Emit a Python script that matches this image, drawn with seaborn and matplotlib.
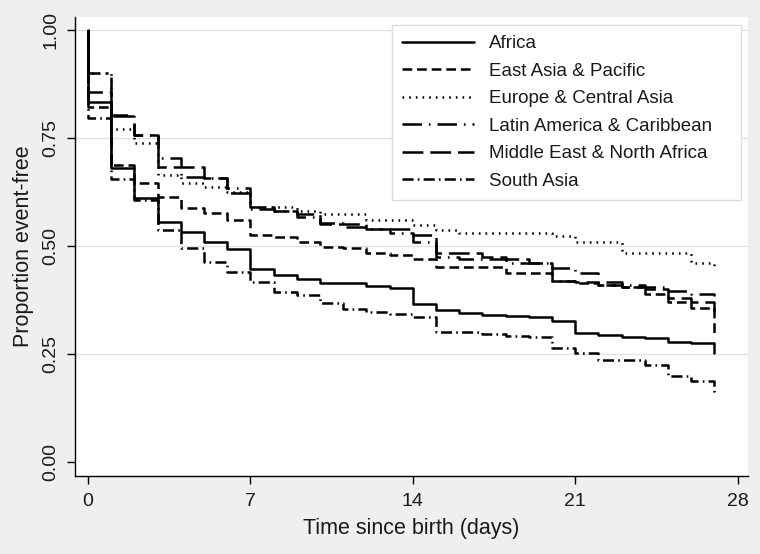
"""
Kaplan-Meier style curves: proportion event-free by region, days since birth.
"""

import pandas as pd
import matplotlib
matplotlib.use("Agg")
import matplotlib.pyplot as plt
import seaborn as sns

# ========== 1. Data ==========
days = list(range(0, 28))

africa = [0.834, 0.680, 0.611, 0.556, 0.533, 0.510, 0.493, 0.447, 0.433, 0.424,
          0.414, 0.414, 0.408, 0.403, 0.366, 0.352, 0.345, 0.340, 0.338, 0.335,
          0.326, 0.298, 0.294, 0.290, 0.287, 0.278, 0.275, 0.252]
east_asia = [0.822, 0.687, 0.645, 0.614, 0.588, 0.576, 0.560, 0.525, 0.520, 0.510,
             0.498, 0.495, 0.485, 0.480, 0.470, 0.452, 0.452, 0.452, 0.437, 0.437,
             0.420, 0.415, 0.410, 0.405, 0.390, 0.370, 0.356, 0.300]
europe = [0.900, 0.770, 0.738, 0.664, 0.645, 0.637, 0.625, 0.590, 0.590, 0.582,
          0.574, 0.574, 0.560, 0.560, 0.549, 0.537, 0.530, 0.530, 0.530, 0.530,
          0.523, 0.510, 0.510, 0.483, 0.483, 0.483, 0.460, 0.455]
latin_america = [0.900, 0.803, 0.757, 0.704, 0.660, 0.657, 0.634, 0.585, 0.580, 0.568,
                 0.553, 0.544, 0.539, 0.530, 0.510, 0.474, 0.469, 0.469, 0.460, 0.460,
                 0.450, 0.437, 0.417, 0.410, 0.405, 0.395, 0.390, 0.385]
middle_east = [0.857, 0.800, 0.757, 0.683, 0.683, 0.657, 0.623, 0.590, 0.580, 0.575,
               0.550, 0.550, 0.540, 0.540, 0.525, 0.484, 0.484, 0.474, 0.469, 0.460,
               0.420, 0.417, 0.410, 0.405, 0.400, 0.380, 0.370, 0.350]
south_asia = [0.796, 0.655, 0.606, 0.537, 0.495, 0.463, 0.440, 0.417, 0.394, 0.387,
              0.368, 0.354, 0.348, 0.343, 0.336, 0.302, 0.302, 0.297, 0.292, 0.290,
              0.264, 0.252, 0.236, 0.236, 0.225, 0.199, 0.188, 0.160]

regions = ["Africa", "East Asia & Pacific", "Europe & Central Asia",
           "Latin America & Caribbean", "Middle East & North Africa", "South Asia"]
curves = [africa, east_asia, europe, latin_america, middle_east, south_asia]

# line patterns in points (dash, gap, ...)
patterns = ["-", (0, (7, 3.5)), (0, (1.2, 3.6)), (0, (14, 5, 1.2, 5)),
            (0, (15, 5)), (0, (8, 3, 1.2, 3))]

x_ticks = [0, 7, 14, 21, 28]
y_ticks = [0.0, 0.25, 0.5, 0.75, 1.0]

# ========== 2. Style ==========
sns.set_style("white")
plt.rcParams["font.family"] = ["Liberation Sans", "DejaVu Sans"]
plt.rcParams["lines.scale_dashes"] = False
plt.rcParams["text.color"] = "#1A1A1A"
plt.rcParams["axes.labelcolor"] = "#1A1A1A"
plt.rcParams["xtick.color"] = "#1A1A1A"
plt.rcParams["ytick.color"] = "#1A1A1A"

fig = plt.figure(figsize=(7.6, 5.54), dpi=100, facecolor="#EFEFEF")
ax = fig.add_axes([75 / 760, 78 / 554, 673 / 760, 459 / 554])
ax.set_facecolor("white")

# ========== 3. Plot ==========
for name, vals, ls in zip(regions, curves, patterns):
    # survival starts at 1 at time 0, then steps down at each day
    df = pd.DataFrame({"day": [0] + days, "surv": [1.0] + vals})
    sns.lineplot(data=df, x="day", y="surv", ax=ax, estimator=None, sort=False,
                 drawstyle="steps-post", color="black", linewidth=1.8,
                 linestyle=ls, label=name)

ax.set_xlim(-0.56, 28.45)
ax.set_ylim(-0.032, 1.03)
ax.set_xticks(x_ticks)
ax.set_yticks(y_ticks)
ax.set_yticklabels([f"{v:.2f}" for v in y_ticks], rotation=90, va="center")
ax.yaxis.grid(True, color="#E2E2E2", linewidth=1)
ax.get_ygridlines()[0].set_visible(False)
ax.tick_params(axis="both", bottom=True, left=True, direction="out", length=6,
               width=1, color="black", labelsize=14, pad=6)
ax.tick_params(axis="y", pad=5)

for side in ["top", "right"]:
    ax.spines[side].set_visible(False)
for side in ["left", "bottom"]:
    ax.spines[side].set_color("black")
    ax.spines[side].set_linewidth(1)

ax.set_xlabel("Time since birth (days)", fontsize=15.5, labelpad=6)
ax.set_ylabel("Proportion event-free", fontsize=15.5, labelpad=6)

leg = ax.legend(loc="upper left",
                bbox_to_anchor=(392 / 760, 1 - 199 / 554, 349 / 760, 174 / 554),
                bbox_transform=fig.transFigure, mode="expand", fontsize=13.5,
                frameon=True, fancybox=False, handlelength=3.8, handletextpad=0.8,
                labelspacing=0.55, borderpad=0.55, borderaxespad=0)
leg.get_frame().set_edgecolor("#DDDDDD")
leg.get_frame().set_facecolor("white")
leg.get_frame().set_alpha(1)

plt.savefig("out.png", dpi=100, facecolor=fig.get_facecolor())
